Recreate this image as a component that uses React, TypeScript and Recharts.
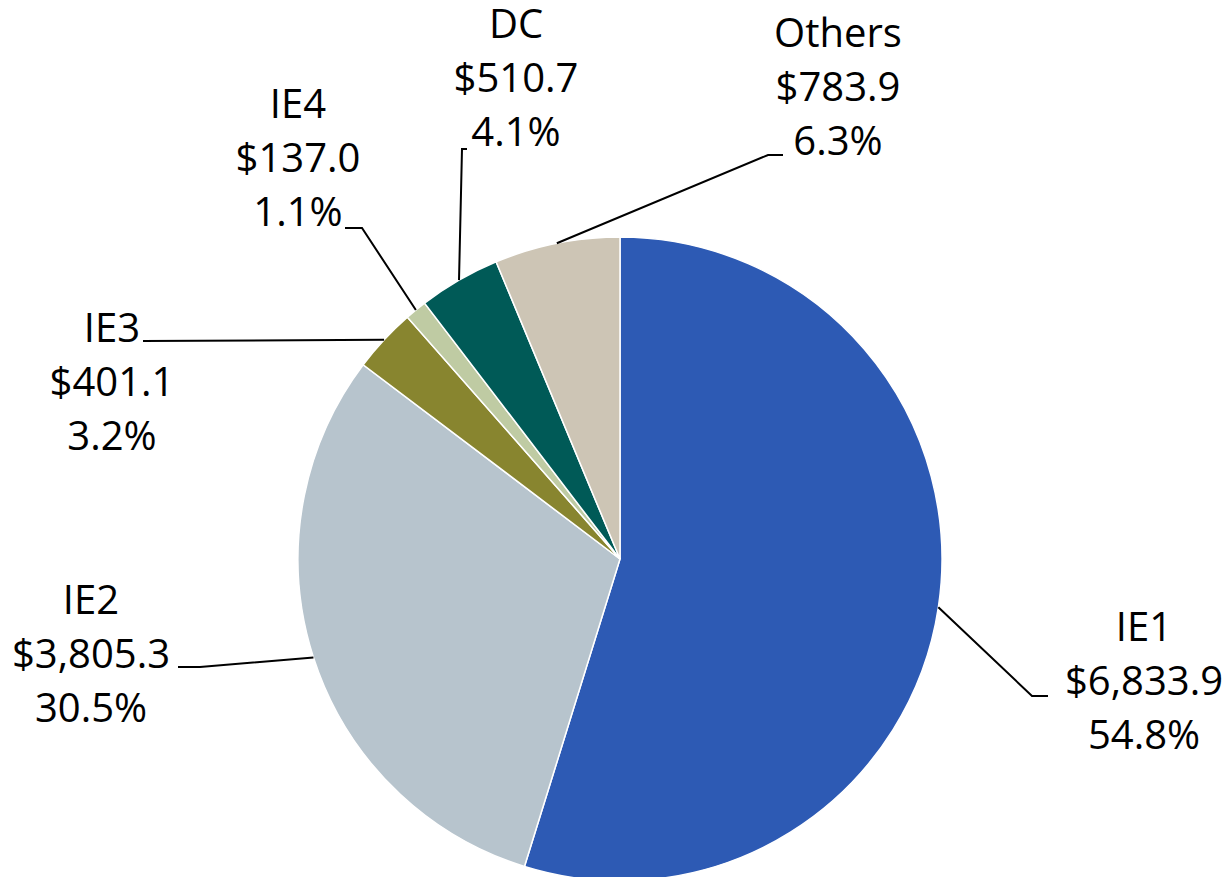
import { Cell, Pie, PieChart } from 'recharts';

const names = ['IE1', 'IE2', 'IE3', 'IE4', 'DC', 'Others'];
const amounts = [6833.9, 3805.3, 401.1, 137.0, 510.7, 783.9];
const colors = ['#2D5AB4', '#B7C4CD', '#88852F', '#BFCBA3', '#005A57', '#CDC5B5'];

// where Excel put each label: text centre x, first baseline y, elbow point, end of the short horizontal
const labelLayout = [
  { tx: 1144, ty: 641, ex: 1032, ey: 696, hx: 1048 },
  { tx: 91, ty: 614, ex: 200, ey: 667, hx: 178 },
  { tx: 112, ty: 342, ex: 143, ey: 341, hx: 143 },
  { tx: 298, ty: 118, ex: 362, ey: 228, hx: 345 },
  { tx: 516, ty: 38, ex: 462, ey: 149, hx: 467 },
  { tx: 838, ty: 47, ex: 768, ey: 155, hx: 783 },
];

const data = names.map((name, i) => ({ name, value: amounts[i] }));

const RAD = Math.PI / 180;
const LINE_GAP = 54;

const fmtMoney = (v: number) =>
  '$' + v.toLocaleString('en-US', { minimumFractionDigits: 1, maximumFractionDigits: 1 });

function renderLabel(props: any) {
  const { cx, cy, midAngle, outerRadius, index, percent, value, name } = props;
  const sx = cx + outerRadius * Math.cos(-midAngle * RAD);
  const sy = cy + outerRadius * Math.sin(-midAngle * RAD);
  const l = labelLayout[index];
  return (
    <g key={`lbl-${index}`}>
      <polyline
        points={`${sx},${sy} ${l.ex},${l.ey} ${l.hx},${l.ey}`}
        fill='none'
        stroke='#000'
        strokeWidth={2}
      />
      <text
        x={l.tx}
        y={l.ty}
        textAnchor='middle'
        fontFamily='"Open Sans", sans-serif'
        fontSize={40}
        fill='#000'
      >
        <tspan x={l.tx}>{name}</tspan>
        <tspan x={l.tx} dy={LINE_GAP}>{fmtMoney(value)}</tspan>
        <tspan x={l.tx} dy={LINE_GAP}>{(percent * 100).toFixed(1)}%</tspan>
      </text>
    </g>
  );
}

export default function App() {
  return (
    <div style={{ position: 'absolute', left: 0, top: 0, width: 1229, height: 877, background: '#fff' }}>
      <PieChart width={1229} height={877} margin={{ top: 0, right: 0, bottom: 0, left: 0 }}>
        <Pie
          data={data}
          dataKey='value'
          nameKey='name'
          cx={620}
          cy={559}
          outerRadius={322}
          startAngle={90}
          endAngle={-270}
          stroke='#fff'
          strokeWidth={1.5}
          label={renderLabel}
          labelLine={false}
          isAnimationActive={false}
        >
          {data.map((d, i) => (
            <Cell key={d.name} fill={colors[i]} />
          ))}
        </Pie>
      </PieChart>
    </div>
  );
}
